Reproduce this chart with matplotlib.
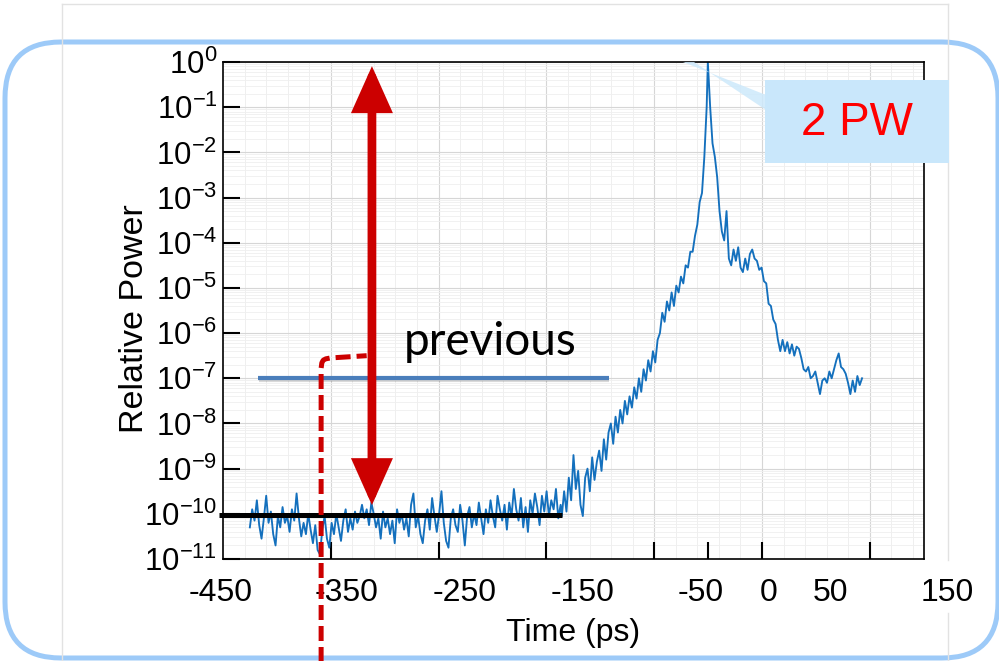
import numpy as np
import matplotlib
matplotlib.use('Agg')
import matplotlib.pyplot as plt
from matplotlib.patches import FancyBboxPatch, Rectangle, Polygon
import matplotlib.patheffects as pe

plt.rcParams['font.family'] = ['Liberation Sans', 'DejaVu Sans']
plt.rcParams['mathtext.fontset'] = 'custom'
plt.rcParams['mathtext.rm'] = 'Liberation Sans'
plt.rcParams['mathtext.default'] = 'regular'

# trace, as log10(relative power)
# noise floor: from -427 ps, every 2 ps
floor_start, floor_step = -427, 2
floor_log = [-10.3, -9.9, -10.15, -9.7, -10.25, -10.55, -10.1, -9.6, -10.2, -9.95,
             -10.45, -10.7, -10.05, -10.3, -9.85, -10.2, -10.05, -10.4, -9.9, -10.15,
             -9.55, -10.1, -10.5, -10.2, -10.45, -10.0, -10.35, -10.65, -10.25, -10.8,
             -10.9, -10.35, -10.05, -10.55, -10.75, -10.2, -10.45, -10.0, -10.3, -10.6,
             -10.15, -9.9, -10.4, -10.1, -10.35, -9.95, -10.2, -10.05, -9.8, -10.1,
             -9.9, -10.25, -9.75, -10.0, -10.3, -10.1, -10.55, -9.95, -10.3, -10.1,
             -10.45, -10.15, -10.65, -9.9, -10.2, -10.0, -10.35, -10.1, -10.5, -9.8,
             -9.55, -10.3, -10.05, -10.45, -10.65, -10.15, -9.9, -10.35, -9.65, -10.05,
             -10.4, -10.0, -9.5, -10.2, -10.6, -10.75, -10.1, -9.9, -10.25, -10.4,
             -9.8, -10.15, -10.7, -10.05, -9.85, -10.3, -10.0, -10.25, -9.75, -10.1,
             -10.45, -9.9, -10.2, -9.7, -10.05, -10.3, -9.6, -9.9, -10.15, -9.8,
             -10.35, -9.75, -10.05, -9.45, -9.9, -10.15, -9.65, -10.3, -9.85, -10.4,
             -9.7, -10.0, -9.55, -9.85, -10.25, -9.6, -9.95, -9.5, -10.05, -9.7,
             -9.9, -9.45, -10.1, -9.8]
# rising edge: from -160 ps, every 2 ps
rise_start, rise_step = -160, 2
rise_log = [-10.05, -9.5, -9.95, -9.2, -9.7, -8.7, -9.45, -9.05, -9.8, -10.05,
            -9.2, -9.0, -9.5, -8.75, -9.25, -8.85, -8.6, -9.05, -8.35, -8.8,
            -8.2, -8.0, -8.45, -7.85, -8.2, -7.7, -8.0, -7.5, -7.8, -7.4,
            -7.65, -7.2, -7.45, -7.0, -7.3, -6.8, -7.05, -6.6, -6.85, -6.4,
            -6.65, -6.15, -6.0, -5.55, -5.75, -5.3, -5.5, -5.1, -5.4, -4.95,
            -5.1, -4.75, -4.9, -4.5, -4.55, -4.2, -4.2, -3.85, -3.6, -3.1,
            -2.9, -2.1, -1.0]
# peak and tail: from -35 ps, every 2 ps
fall_start, fall_step = -35, 2
fall_log = [0.0, -1.0, -1.8, -2.1, -2.55, -3.3, -3.75, -3.95, -3.3, -4.35,
            -4.5, -4.15, -4.4, -4.1, -4.55, -4.65, -4.35, -4.6, -4.25, -4.15,
            -4.35, -4.4, -4.6, -4.55, -4.85, -4.9, -5.35, -5.4, -5.7, -5.8,
            -6.15, -6.4, -6.15, -6.4, -6.2, -6.45, -6.25, -6.5, -6.3, -6.35,
            -6.55, -6.8, -6.85, -6.75, -7.0, -6.95, -6.85, -7.1, -7.35, -7.05,
            -7.0, -7.1, -6.85, -7.0, -6.8, -6.6, -6.45, -6.75, -6.8, -6.9,
            -7.1, -7.35, -7.05, -7.3, -6.95, -7.15, -7.0]

time = np.concatenate([floor_start + floor_step * np.arange(len(floor_log)),
                       rise_start + rise_step * np.arange(len(rise_log)),
                       fall_start + fall_step * np.arange(len(fall_log))])
power = 10.0 ** np.array(floor_log + rise_log + fall_log)

# tick labels sit where the slide put them, not on the tick marks
x_labels = ['-450', '-350', '-250', '-150', '-50', '0', '50', '150']
x_label_at = [-452, -344, -243, -142, -41, 17, 70, 170]
grid_step = 92.27
x_marks = [-357.6, -265.3, -173.1, -80.8, -34.6, 11.5, 103.7]
y_decades = list(range(0, -12, -1))

# annotations
previous_level = 1e-7
previous_span = (-420, -120)
previous_text_at = (-221, 10 ** -6.2)
floor_level = 10 ** -10.03
floor_span = (-453, -160)
arrow_x = -322.5
arrow_top, arrow_bottom = 1.0, 10 ** -9.9
peak_label = '2 PW'

fig = plt.figure(figsize=(9.99, 6.61), dpi=100)

# slide background (pixel coordinates)
bg = fig.add_axes([0, 0, 1, 1], zorder=0)
bg.set_xlim(0, 999)
bg.set_ylim(661, 0)
bg.axis('off')
gray = '#e2e2e2'
bg.plot([62, 62], [4, 661], color=gray, lw=1)
bg.plot([62, 948], [4, 4], color=gray, lw=1)
bg.plot([948, 948], [4, 560], color=gray, lw=1)
bg.plot([948, 948], [613, 661], color=gray, lw=1)
bg.add_patch(FancyBboxPatch((5, 42), 993, 616, boxstyle='round,pad=0,rounding_size=56',
                            fill=False, ec='#9dcaf8', lw=3.6))

ax = fig.add_axes([0.2232, 0.1543, 0.7017, 0.7519], zorder=1)
ax.set_yscale('log')

# grid
for k in range(1, 33):
    gx = -450 + grid_step / 5 * k
    if gx < 150:
        major = k % 5 == 0
        ax.axvline(gx, color='#d6d6d6' if major else '#ededed', lw=0.8 if major else 0.6, zorder=0)
for d in y_decades:
    ax.axhline(10.0 ** d, color='#d6d6d6', lw=0.8, zorder=0)
    for m in range(2, 10):
        ax.axhline(m * 10.0 ** (d - 1), color='#efefef', lw=0.6, zorder=0)

ax.plot(time, power, color='#1470bd', lw=1.35, zorder=2)

ax.set_xticks([])
ax.set_xticks(x_marks, minor=True)
ax.set_yticks([10.0 ** d for d in y_decades], [r'$10^{%d}$' % d for d in y_decades])
ax.yaxis.set_minor_locator(matplotlib.ticker.NullLocator())
ax.tick_params(axis='x', which='minor', direction='in', length=12, width=1.5)
ax.tick_params(axis='y', direction='in', length=12, width=1.5, pad=4, labelsize=22.5)
for s in ax.spines.values():
    s.set_linewidth(1.2)
ax.set_xlim(-450, 150)
ax.set_ylim(1e-11, 1)

for lab, xv in zip(x_labels, x_label_at):
    ax.annotate(lab, xy=(xv, 0), xycoords=('data', 'axes fraction'), xytext=(0, -14),
                textcoords='offset points', ha='center', va='top', fontsize=23,
                annotation_clip=False)

ax.set_xlabel('Time (ps)', fontsize=23, labelpad=39)
ax.set_ylabel('Relative Power', fontsize=24.5)
ax.yaxis.set_label_coords(-0.104, 0.483)

# "previous" contrast level and the new noise floor
ax.plot(previous_span, [previous_level] * 2, color='#4a7ebb', lw=3, solid_capstyle='butt', zorder=3,
        path_effects=[pe.SimpleLineShadow(offset=(0.5, -1.5), alpha=0.15), pe.Normal()])
ax.text(*previous_text_at, 'previous', fontsize=33, family='Lato',
        ha='center', va='center', zorder=4)
ax.plot(floor_span, [floor_level] * 2, color='black', lw=3.6, solid_capstyle='butt',
        clip_on=False, zorder=3)

# red double arrow
ax.annotate('', xy=(arrow_x, arrow_top), xytext=(arrow_x, arrow_bottom),
            arrowprops=dict(arrowstyle='<|-|>,head_length=0.85,head_width=0.38', mutation_scale=27,
                            color='#cc0000', lw=6.3, shrinkA=3, shrinkB=3, joinstyle='miter'),
            zorder=4)

# red dashed bracket running off the bottom of the slide
bx = [-366, -366, -365.4, -364.2, -362, -358, -327]
by = [10 ** -13.3, 10 ** -6.78, 10 ** -6.66, 10 ** -6.6, 10 ** -6.57, 10 ** -6.55, 10 ** -6.5]
dash, = ax.plot(bx, by, color='#cc0000', lw=3.6, clip_on=False, zorder=5)
dash.set_dashes((3, 1.2))

# peak power callout
fg = fig.add_axes([0, 0, 1, 1], zorder=2)
fg.set_xlim(0, 999)
fg.set_ylim(661, 0)
fg.axis('off')
fg.add_patch(Polygon([(683, 62), (694, 62), (766, 110), (766, 95)], closed=True,
                     fc='#cde9fb', ec='none', alpha=0.85))
fg.add_patch(Rectangle((765, 80), 184, 83, fc='#c9e7fb', ec='none'))
fg.text(857, 123, peak_label, fontsize=33, color='#ff0000', ha='center', va='center')

fig.savefig('out.png', dpi=100)
